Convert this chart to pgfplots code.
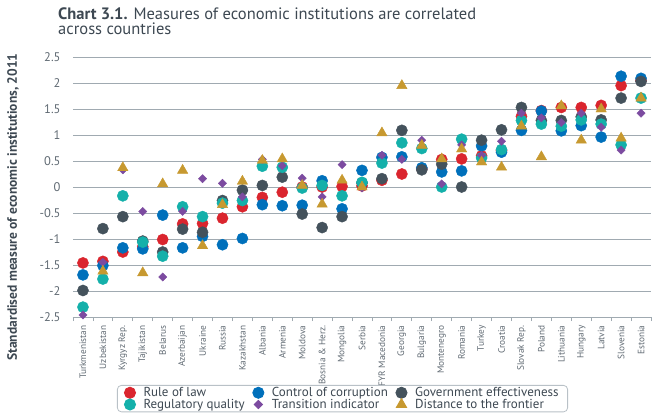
\documentclass[border=0pt]{standalone}
\usepackage{pgfplots}
\pgfplotsset{compat=1.18}
\usepackage{pgfplotstable}
\usepackage{fontspec}
\setmainfont{PT Sans}
\definecolor{cRed}{RGB}{218,37,46}
\definecolor{cBlue}{RGB}{0,112,187}
\definecolor{cDark}{RGB}{68,82,92}
\definecolor{cTeal}{RGB}{20,176,170}
\definecolor{cPurple}{RGB}{124,75,160}
\definecolor{cGold}{RGB}{199,153,48}
\definecolor{titlec}{RGB}{61,72,82}
\definecolor{tickc}{RGB}{95,105,114}
\definecolor{gridc}{RGB}{160,170,177}
\definecolor{legc}{RGB}{185,193,199}
\pgfplotstableread{
i red blue dgray teal purple gold
0 -1.46 -1.69 -1.99 -2.31 -2.46 nan
1 -1.43 -1.51 -0.80 -1.77 -1.45 -1.62
2 -1.25 -1.17 -0.57 -0.17 0.33 0.37
3 -1.15 -1.19 -1.04 -1.06 -0.47 -1.65
4 -1.01 -0.54 -1.25 -1.33 -1.73 0.06
5 -0.71 -1.17 -0.81 -0.38 -0.47 0.32
6 -0.70 -0.95 -0.87 -0.57 0.16 -1.13
7 -0.60 -1.11 -0.26 -0.31 0.07 -0.34
8 -0.38 -0.99 -0.06 -0.26 -0.19 0.11
9 -0.20 -0.34 0.03 0.40 0.53 0.51
10 -0.10 -0.36 0.19 0.38 0.41 0.54
11 0.00 -0.35 -0.52 -0.02 0.17 0.03
12 0.00 0.12 -0.78 0.03 -0.19 -0.33
13 0.01 -0.42 -0.57 -0.17 0.43 0.13
14 0.02 0.32 0.08 0.09 -0.02 0.00
15 0.13 0.57 0.16 0.46 0.61 1.04
16 0.25 0.58 1.09 0.85 0.53 1.95
17 0.35 0.37 0.33 0.74 0.90 0.80
18 0.53 0.29 0.44 0.00 0.06 0.54
19 0.54 0.31 0.00 0.92 0.81 0.73
20 0.60 0.79 0.90 0.56 0.61 0.48
21 0.70 0.67 1.10 0.72 0.88 0.38
22 1.36 1.09 1.53 1.28 1.42 1.17
23 1.47 1.46 1.28 1.21 1.33 0.58
24 1.53 1.08 1.28 1.17 1.24 1.56
25 1.53 1.18 1.35 1.29 1.42 0.90
26 1.57 0.96 1.29 1.21 1.15 1.50
27 1.95 2.13 1.71 0.81 0.71 0.94
28 2.05 2.09 2.03 1.71 1.42 1.71
}\data
\begin{document}
\begin{tikzpicture}
\path[use as bounding box] (-73pt,-101pt) rectangle (584pt,317pt);
\begin{axis}[
  at={(0,0)}, anchor=south west,
  scale only axis, width=578pt, height=260pt,
  xmin=-0.5, xmax=28.5, ymin=-2.5, ymax=2.5,
  clip=false,
  axis x line*=bottom, axis y line*=left,
  y axis line style={draw=none},
  x axis line style={draw=gridc, line width=0.8pt},
  ytick={-2.5,-2,...,2.5},
  major y tick style={draw=none},
  ymajorgrids, major grid style={draw=gridc, line width=0.8pt},
  xtick={0,...,28},
  xticklabels={Turkmenistan,Uzbekistan,Kyrgyz Rep.,Tajikistan,Belarus,Azerbaijan,Ukraine,Russia,Kazakhstan,Albania,Armenia,Moldova,Bosnia \& Herz.,Mongolia,Serbia,FYR Macedonia,Georgia,Bulgaria,Montenegro,Romania,Turkey,Croatia,Slovak Rep.,Poland,Lithuania,Hungary,Latvia,Slovenia,Estonia},
  major x tick style={draw=none},
  minor xtick={-0.5,0.5,...,28.5},
  minor x tick style={draw=gridc, line width=0.8pt},
  minor tick length=4pt,
  tick align=outside,
  xticklabel style={rotate=90, anchor=east, font=\fontsize{9.3}{9.3}\selectfont, text=tickc, inner sep=0pt, xshift=-4pt},
  yticklabel style={font=\fontsize{12.5}{12.5}\selectfont, text=tickc, inner sep=0pt, xshift=-8pt},
  /pgf/number format/assume math mode=true,
  legend columns=3,
  legend cell align=left,
  legend style={at={(axis description cs:0.0761,-0.2615)}, anchor=north west, draw=legc, line width=0.8pt, rounded corners=4pt, font=\fontsize{13}{12}\selectfont, text=titlec, column sep=6pt, inner xsep=7pt, inner ysep=1pt, row sep=-1pt, nodes={inner ysep=1pt}},
]
\addplot[only marks, mark=*, mark size=5.6pt, color=cRed] table[x=i,y=red]{\data};
\addlegendentry{Rule of law}
\addplot[only marks, mark=*, mark size=5.6pt, color=cBlue] table[x=i,y=blue]{\data};
\addlegendentry{Control of corruption}
\addplot[only marks, mark=*, mark size=5.6pt, color=cDark] table[x=i,y=dgray]{\data};
\addlegendentry{Government effectiveness}
\addplot[only marks, mark=*, mark size=5.6pt, color=cTeal] table[x=i,y=teal]{\data};
\addlegendentry{Regulatory quality}
\addplot[only marks, mark=square*, mark size=2.9pt, mark options={rotate=45, sharp corners}, color=cPurple] table[x=i,y=purple]{\data};
\addlegendentry{Transition indicator}
\addplot[only marks, mark=triangle*, mark size=6pt, mark options={sharp corners}, color=cGold] table[x=i,y=gold]{\data};
\addlegendentry{Distance to the frontier}
\end{axis}
\node[anchor=north west, align=left, text=titlec, font=\fontsize{16.5}{15}\selectfont, inner sep=0pt] at (-15pt,309pt) {\textbf{Chart 3.1.} Measures of economic institutions are correlated\\across countries};
\node[rotate=90, text=titlec, font=\bfseries\fontsize{13.5}{14}\selectfont] at (-60pt,110pt) {Standardised measure of economic institutions, 2011};
\end{tikzpicture}
\end{document}
